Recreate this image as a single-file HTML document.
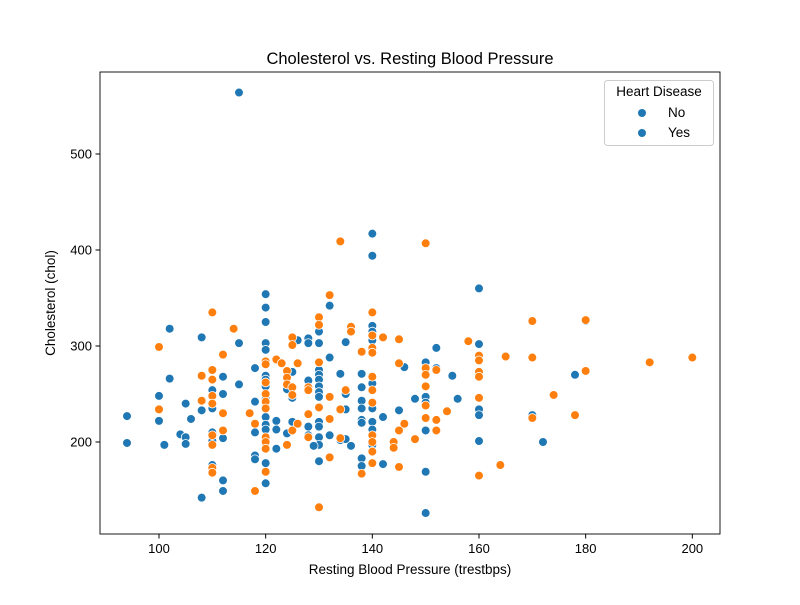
<!DOCTYPE html>
<html><head><meta charset="utf-8"><style>
body{margin:0;background:#fff;}
svg text{font-family:"Liberation Sans","DejaVu Sans",sans-serif;fill:#000;}
</style></head><body>
<svg id="chart" width="800" height="600" xmlns="http://www.w3.org/2000/svg">
<rect width="800" height="600" fill="#fff"/>
<text x="410" y="64" font-size="16.5" text-anchor="middle">Cholesterol vs. Resting Blood Pressure</text>
<g id="marks"></g>
<rect x="100" y="72" width="620" height="462" fill="none" stroke="#000" stroke-width="0.9"/>
<g id="axes"></g>
<text x="410" y="574" font-size="13.5" text-anchor="middle">Resting Blood Pressure (trestbps)</text>
<text transform="translate(55,303) rotate(-90)" font-size="13.5" text-anchor="middle">Cholesterol (chol)</text>
<g>
<rect x="604.5" y="80.5" width="109" height="65" rx="3" fill="#fff" fill-opacity="0.8" stroke="#ccc"/>
<text x="659" y="96" font-size="13.5" text-anchor="middle">Heart Disease</text>
<circle cx="642" cy="113" r="4" fill="#1f77b4"/>
<text x="668" y="117" font-size="13.5">No</text>
<circle cx="642" cy="133" r="4" fill="#1f77b4"/>
<text x="668" y="137" font-size="13.5">Yes</text>
</g>
</svg>
<script>
const xTicks=[100,120,140,160,180,200];
const yTicks=[200,300,400,500];
const noBP=[120,120,120,102,108,115,120,120,126,118,120,120,120,102,112,115,124,125,125,100,110,112,105,108,110,118,120,120,120,120,120,94,100,106,122,122,125,124,104,105,105,110,110,112,94,101,118,120,122,118,118,120,110,120,112,112,108,
160,132,130,140,140,140,128,128,126,130,135,152,160,132,146,150,152,130,130,130,130,130,130,134,138,155,128,140,138,135,125,148,150,150,156,160,160,138,138,140,135,145,142,138,138,130,130,140,140,128,125,132,150,128,130,130,134,135,136,129,140,140,140,160,138,138,130,142,150,150,
180,178,172,170,170,115,140,140];
const noChol=[354,340,325,318,309,303,303,296,306,277,269,265,258,266,268,260,255,273,246,248,254,250,240,233,235,242,245,237,226,218,213,227,222,224,222,213,221,209,208,205,198,210,201,204,199,197,210,194,193,186,182,178,176,157,160,149,142,
360,342,315,321,315,306,308,303,306,303,304,298,302,288,278,283,277,275,270,265,258,252,247,271,271,269,264,261,257,250,246,245,247,241,245,234,228,243,235,235,234,233,226,223,220,221,216,221,213,216,221,207,212,207,205,197,202,203,196,196,206,200,197,201,183,175,180,177,169,126,
326,270,200,228,225,564,417,394];
const yesBP=[110,114,100,112,125,125,122,123,126,120,120,110,108,110,124,124,124,125,125,120,110,110,108,100,112,117,120,120,120,118,125,126,110,110,112,120,120,120,124,120,110,110,118,
132,140,130,130,136,136,140,142,145,158,140,140,138,126,130,145,160,160,160,160,150,150,152,140,140,128,128,135,132,150,130,134,160,140,150,150,154,128,132,152,152,146,145,128,140,140,140,140,134,148,144,144,132,138,145,160,130,
180,180,170,170,165,164,174,178,170,192,200,134,150];
const yesChol=[335,318,299,291,309,301,286,282,282,284,281,275,269,265,274,267,260,257,249,262,248,240,243,234,230,230,250,242,235,219,212,219,207,197,212,205,200,193,197,169,173,168,149,
353,335,330,322,320,315,311,309,307,305,298,293,294,282,283,282,290,285,273,268,277,270,275,268,254,257,254,254,247,258,236,234,246,241,238,225,232,229,224,223,212,219,212,205,207,200,190,178,204,203,200,194,184,167,174,165,132,
327,274,326,288,289,176,249,228,225,283,288,409,407];
const xs=v=>159+(v-100)*5.3333;
const ys=v=>442-(v-200)*0.96;
const NS='http://www.w3.org/2000/svg';
const marks=document.getElementById('marks');
function dot(x,y,c,name){
  const el=document.createElementNS(NS,'circle');
  el.setAttribute('cx',xs(x));el.setAttribute('cy',ys(y));el.setAttribute('r',4.4);
  el.setAttribute('fill',c);el.setAttribute('stroke','#fff');el.setAttribute('stroke-width',0.8);
  
  
  marks.appendChild(el);
}
noBP.forEach((b,i)=>dot(b,noChol[i],'#1f77b4','point-no'));
yesBP.forEach((b,i)=>dot(b,yesChol[i],'#ff7f0e','point-yes'));
const axes=document.getElementById('axes');
xTicks.forEach(t=>{
  const l=document.createElementNS(NS,'line');
  l.setAttribute('x1',xs(t));l.setAttribute('x2',xs(t));l.setAttribute('y1',534);l.setAttribute('y2',538.5);l.setAttribute('stroke','#000');
  
  
  axes.appendChild(l);
  const tx=document.createElementNS(NS,'text');
  tx.setAttribute('x',xs(t));tx.setAttribute('y',553);tx.setAttribute('font-size','13');tx.setAttribute('text-anchor','middle');
  tx.textContent=t;
  
  
  axes.appendChild(tx);
});
yTicks.forEach(t=>{
  const l=document.createElementNS(NS,'line');
  l.setAttribute('x1',95.5);l.setAttribute('x2',100);l.setAttribute('y1',ys(t));l.setAttribute('y2',ys(t));l.setAttribute('stroke','#000');
  
  
  axes.appendChild(l);
  const tx=document.createElementNS(NS,'text');
  tx.setAttribute('x',92);tx.setAttribute('y',ys(t)+4.5);tx.setAttribute('font-size','13');tx.setAttribute('text-anchor','end');
  tx.textContent=t;
  
  
  axes.appendChild(tx);
});
</script>
</body></html>
